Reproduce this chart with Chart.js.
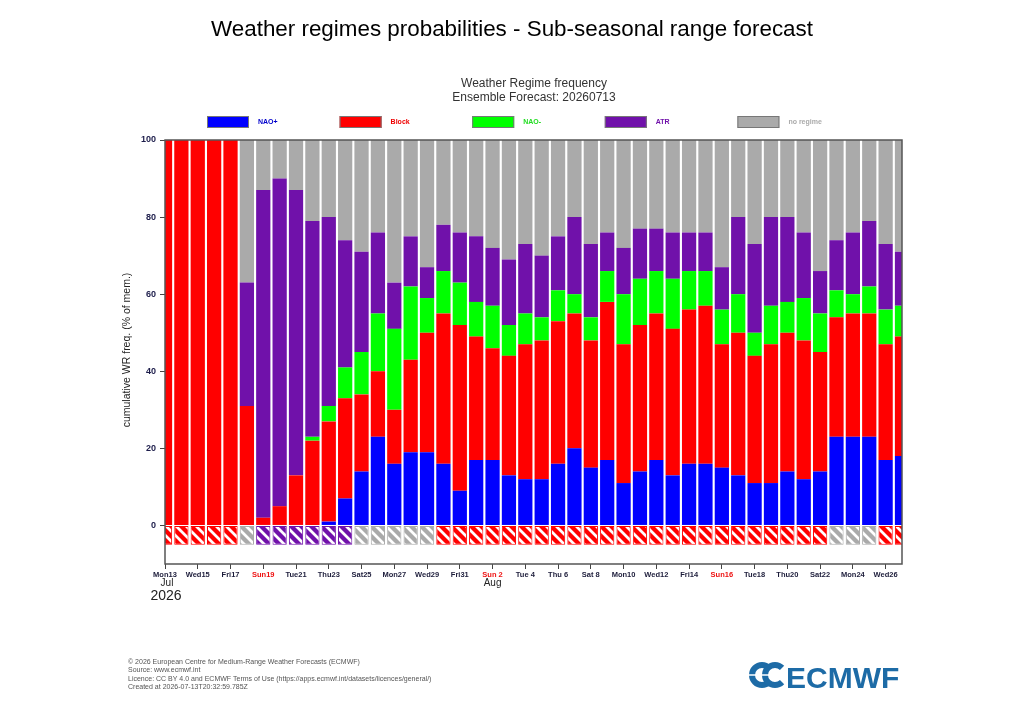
<!DOCTYPE html>
<html>
<head>
<meta charset="utf-8">
<title>Weather regimes probabilities</title>
<script src="https://cdn.jsdelivr.net/npm/chart.js@4"></script>
<style>
    html, body { margin: 0; padding: 0; background: #ffffff; }
    #wrap { width: 1024px; height: 720px; }
</style>
</head>
<body>
<div id="wrap"><canvas id="wrChart" width="1024" height="720"></canvas></div>
<script>
// Forecast days, 13 Jul -> 27 Aug 2026
const dayLabels = [
    'Mon13', 'Tue14', 'Wed15', 'Thu16', 'Fri17', 'Sat18', 'Sun19', 'Mon20', 'Tue21', 'Wed22',
    'Thu23', 'Fri24', 'Sat25', 'Sun26', 'Mon27', 'Tue28', 'Wed29', 'Thu30', 'Fri31', 'Sat 1',
    'Sun 2', 'Mon 3', 'Tue 4', 'Wed 5', 'Thu 6', 'Fri 7', 'Sat 8', 'Sun 9', 'Mon10', 'Tue11',
    'Wed12', 'Thu13', 'Fri14', 'Sat15', 'Sun16', 'Mon17', 'Tue18', 'Wed19', 'Thu20', 'Fri21',
    'Sat22', 'Sun23', 'Mon24', 'Tue25', 'Wed26', 'Thu27'
];

// % of members per regime (stacked bottom -> top)
const naoPlus  = [0, 0, 0, 0, 0, 0, 0, 0, 0, 0, 1, 7, 14, 23, 16, 19, 19, 16, 9, 17, 17, 13, 12, 12, 16, 20, 15, 17, 11, 14, 17, 13, 16, 16, 15, 13, 11, 11, 14, 12, 14, 23, 23, 23, 17, 18];
const block    = [100, 100, 100, 100, 100, 31, 2, 5, 13, 22, 26, 26, 20, 17, 14, 24, 31, 39, 43, 32, 29, 31, 35, 36, 37, 35, 33, 41, 36, 38, 38, 38, 40, 41, 32, 37, 33, 36, 36, 36, 31, 31, 32, 32, 30, 31];
const naoMinus = [0, 0, 0, 0, 0, 0, 0, 0, 0, 1, 4, 8, 11, 15, 21, 19, 9, 11, 11, 9, 11, 8, 8, 6, 8, 5, 6, 8, 13, 12, 11, 13, 10, 9, 9, 10, 6, 10, 8, 11, 10, 7, 5, 7, 9, 8];
const atr      = [0, 0, 0, 0, 0, 32, 85, 85, 74, 56, 49, 33, 26, 21, 12, 13, 8, 12, 13, 17, 15, 17, 18, 16, 14, 20, 19, 10, 12, 13, 11, 12, 10, 10, 11, 20, 23, 23, 22, 17, 11, 13, 16, 17, 17, 14];
const noRegime = [0, 0, 0, 0, 0, 37, 13, 10, 13, 21, 20, 26, 29, 24, 37, 25, 33, 22, 24, 25, 28, 31, 27, 30, 25, 20, 27, 24, 28, 23, 23, 24, 24, 24, 33, 20, 27, 20, 20, 24, 34, 26, 24, 21, 27, 29];

// Hatched strip under the zero line
const dominant = [
    'Block', 'Block', 'Block', 'Block', 'Block', 'none', 'ATR', 'ATR', 'ATR', 'ATR',
    'ATR', 'ATR', 'none', 'none', 'none', 'none', 'none', 'Block', 'Block', 'Block',
    'Block', 'Block', 'Block', 'Block', 'Block', 'Block', 'Block', 'Block', 'Block', 'Block',
    'Block', 'Block', 'Block', 'Block', 'Block', 'Block', 'Block', 'Block', 'Block', 'Block',
    'Block', 'none', 'none', 'none', 'Block', 'Block'
];
const stripDepth = -5;

const yTicks = [0, 20, 40, 60, 80, 100];

const colors = {
    naoPlus: '#0000ff',
    block: '#ff0000',
    naoMinus: '#00ff00',
    atr: '#7011aa',
    none: '#aaaaaa'
};
const stripColors = { Block: colors.block, ATR: colors.atr, none: colors.none, 'NAO+': colors.naoPlus, 'NAO-': colors.naoMinus };

const FONT = "'Liberation Sans', Arial, sans-serif";

const canvas = document.getElementById('wrChart');
const ctx = canvas.getContext('2d');

function hatch(color) {
    const n = 10;
    const c = document.createElement('canvas');
    c.width = n;
    c.height = n;
    const g = c.getContext('2d');
    g.fillStyle = color;
    g.fillRect(0, 0, n, n);
    g.strokeStyle = '#ffffff';
    g.lineWidth = 2.8;
    g.beginPath();
    g.moveTo(0, 0); g.lineTo(n, n);
    g.moveTo(-n / 2, n / 2); g.lineTo(n / 2, n * 1.5);
    g.moveTo(n / 2, -n / 2); g.lineTo(n * 1.5, n / 2);
    g.stroke();
    return ctx.createPattern(c, 'repeat');
}

const decorPlugin = {
    id: 'decor',
    beforeDraw(chart) {
        const c = chart.ctx;
        c.save();
        c.fillStyle = '#ffffff';
        c.fillRect(0, 0, chart.width, chart.height);
        c.restore();
    },
    afterDatasetsDraw(chart) {
        const a = chart.chartArea;
        const c = chart.ctx;
        c.save();
        c.strokeStyle = '#555555';
        c.lineWidth = 1.5;
        c.strokeRect(a.left, a.top, a.right - a.left, a.bottom - a.top);
        c.restore();
    },
    afterDraw(chart) {
        const c = chart.ctx;
        const xs = chart.scales.x;
        c.save();

        // page title
        c.fillStyle = '#000000';
        c.textAlign = 'center';
        c.textBaseline = 'middle';
        c.font = '22.4px ' + FONT;
        c.fillText('Weather regimes probabilities - Sub-seasonal range forecast', 512, 30);

        // chart title
        c.fillStyle = '#333333';
        c.font = '12px ' + FONT;
        c.fillText('Weather Regime frequency', 534, 84);
        c.fillText('Ensemble Forecast: 20260713', 534, 98);

        // legend
        const legend = [
            ['NAO+', colors.naoPlus, '#0000cc'],
            ['Block', colors.block, '#ee0000'],
            ['NAO-', colors.naoMinus, '#22dd22'],
            ['ATR', colors.atr, '#7011aa'],
            ['no regime', colors.none, '#aaaaaa']
        ];
        c.textAlign = 'left';
        c.font = 'bold 7px ' + FONT;
        legend.forEach((item, i) => {
            const x = 207 + i * 132.6;
            c.fillStyle = item[1];
            c.fillRect(x, 116, 42, 12);
            c.strokeStyle = '#777777';
            c.lineWidth = 1;
            c.strokeRect(x + 0.5, 116.5, 41, 11);
            c.fillStyle = item[2];
            c.fillText(item[0], x + 51, 122.5);
        });

        // y title
        c.save();
        c.translate(127, 350);
        c.rotate(-Math.PI / 2);
        c.textAlign = 'center';
        c.fillStyle = '#222222';
        c.font = '10.5px ' + FONT;
        c.fillText('cumulative WR freq. (% of mem.)', 0, 0);
        c.restore();

        // months and year under the date axis
        c.textAlign = 'center';
        c.fillStyle = '#222222';
        c.font = '10px ' + FONT;
        c.fillText('Jul', xs.getPixelForValue(0) + 2, 583);
        c.fillText('Aug', xs.getPixelForValue(20), 583);
        c.font = '14px ' + FONT;
        c.fillText('2026', xs.getPixelForValue(0) + 1, 596);

        // footer
        c.textAlign = 'left';
        c.fillStyle = '#555555';
        c.font = '7px ' + FONT;
        const footer = [
            '\u00a9 2026 European Centre for Medium-Range Weather Forecasts (ECMWF)',
            'Source: www.ecmwf.int',
            'Licence: CC BY 4.0 and ECMWF Terms of Use (https://apps.ecmwf.int/datasets/licences/general/)',
            'Created at 2026-07-13T20:32:59.785Z'
        ];
        footer.forEach((line, i) => c.fillText(line, 128, 662 + i * 8.4));

        // ECMWF logo
        const blue = '#1d6ba6';
        c.strokeStyle = blue;
        c.lineWidth = 6;
        c.beginPath();
        c.arc(762, 675, 10, Math.PI * 0.25, Math.PI * 1.75);
        c.stroke();
        c.beginPath();
        c.arc(775, 675, 10, Math.PI * 0.25, Math.PI * 1.75);
        c.stroke();
        c.strokeStyle = '#ffffff';
        c.lineWidth = 1.5;
        c.beginPath();
        c.moveTo(749, 675); c.lineTo(787, 675);
        c.stroke();
        c.fillStyle = blue;
        c.font = 'bold 30px ' + FONT;
        c.textBaseline = 'alphabetic';
        c.fillText('ECMWF', 786, 688);

        c.restore();
    }
};

const barOpts = {
    stack: 'wr',
    barPercentage: 0.87,
    categoryPercentage: 1.0,
    borderWidth: 0,
    clip: 0
};

new Chart(ctx, {
    type: 'bar',
    data: {
        labels: dayLabels,
        datasets: [
            Object.assign({ label: 'NAO+', data: naoPlus, backgroundColor: colors.naoPlus }, barOpts),
            Object.assign({ label: 'Block', data: block, backgroundColor: colors.block }, barOpts),
            Object.assign({ label: 'NAO-', data: naoMinus, backgroundColor: colors.naoMinus }, barOpts),
            Object.assign({ label: 'ATR', data: atr, backgroundColor: colors.atr }, barOpts),
            Object.assign({ label: 'no regime', data: noRegime, backgroundColor: colors.none }, barOpts),
            Object.assign({}, barOpts, {
                label: 'dominant',
                data: dominant.map(() => stripDepth),
                backgroundColor: dominant.map(d => hatch(stripColors[d])),
                borderColor: dominant.map(d => stripColors[d]),
                borderWidth: 1,
                borderSkipped: false
            })
        ]
    },
    options: {
        responsive: false,
        animation: false,
        devicePixelRatio: 1,
        layout: {
            padding: { left: 120, right: 122, top: 140, bottom: 126 }
        },
        plugins: {
            legend: { display: false },
            title: { display: false },
            tooltip: { enabled: false }
        },
        scales: {
            x: {
                stacked: true,
                offset: false,
                afterFit: s => { s.height = 30; },
                border: { display: false },
                grid: {
                    offset: false,
                    drawOnChartArea: false,
                    tickLength: 5,
                    color: c => (c.index % 2 === 0 ? '#444444' : 'rgba(0,0,0,0)')
                },
                ticks: {
                    autoSkip: false,
                    maxRotation: 0,
                    minRotation: 0,
                    padding: 1,
                    font: { family: FONT, size: 7.5, weight: 'bold' },
                    color: c => (dayLabels[c.index] && dayLabels[c.index].startsWith('Sun') ? '#ee1111' : '#1c1c3a'),
                    callback: (v, i) => (i % 2 === 0 ? dayLabels[i] : '')
                }
            },
            y: {
                stacked: true,
                min: -10,
                max: 100,
                afterBuildTicks: s => { s.ticks = yTicks.map(v => ({ value: v })); },
                afterFit: s => { s.width = 45; },
                border: { display: false },
                grid: {
                    drawOnChartArea: false,
                    tickLength: 5,
                    color: '#444444'
                },
                ticks: {
                    padding: 4,
                    font: { family: FONT, size: 9, weight: 'bold' },
                    color: '#1c1c4a'
                }
            }
        }
    },
    plugins: [decorPlugin]
});
</script>
</body>
</html>
